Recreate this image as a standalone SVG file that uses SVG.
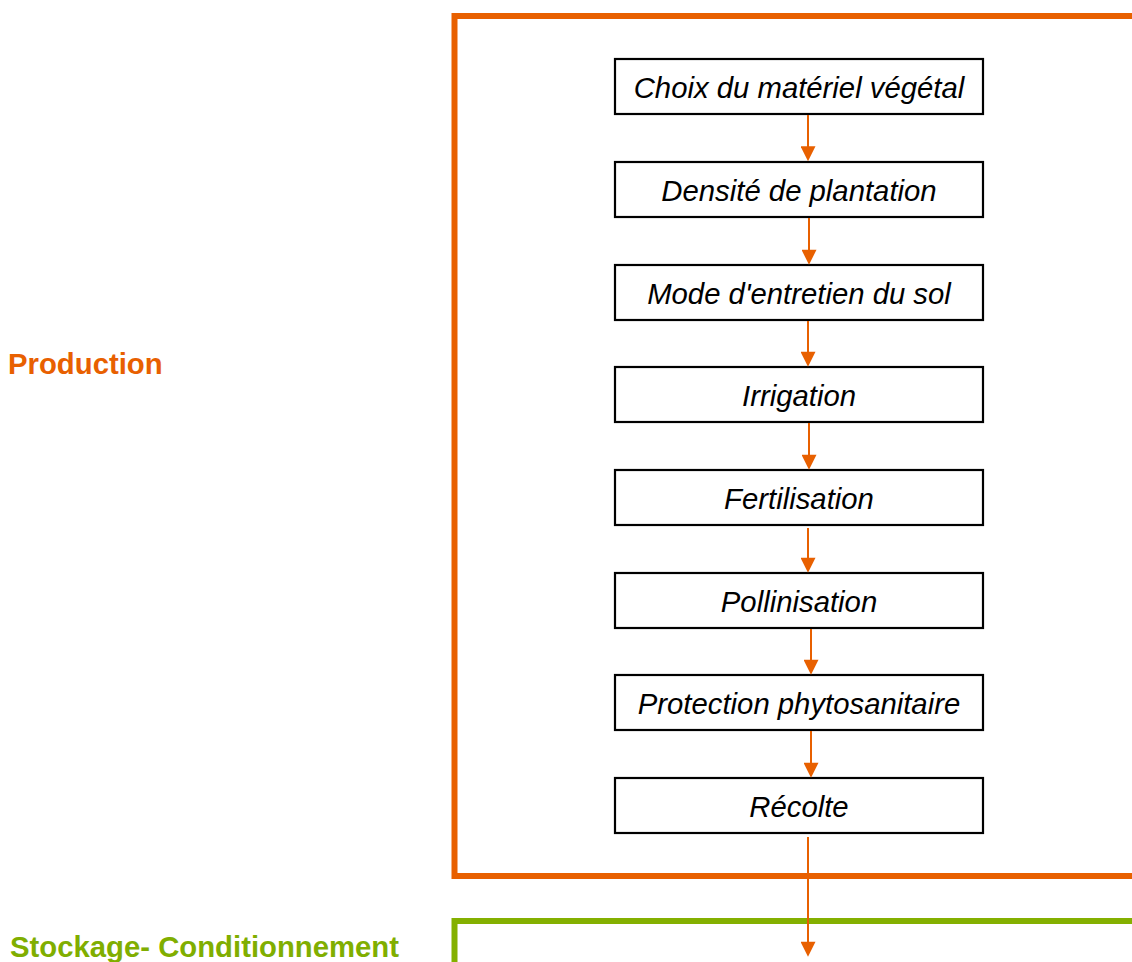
<svg xmlns="http://www.w3.org/2000/svg" width="1132" height="962" viewBox="0 0 1132 962">
<style>
.box rect{fill:#fff;stroke:#000;stroke-width:2.2}
.box text{font-family:"Liberation Sans",Arial,sans-serif;font-style:italic;font-size:29.3px;fill:#000;text-anchor:middle}
.lbl{font-family:"Liberation Sans",Arial,sans-serif;font-weight:bold;font-size:29.3px}
.frame{fill:none;stroke-width:6;stroke-linejoin:miter}
.conn line{stroke:#E86000;stroke-width:2}
</style>
<defs>
<marker id="ah" viewBox="0 0 16 16" refX="12" refY="8" markerWidth="16" markerHeight="15" orient="auto" markerUnits="userSpaceOnUse">
<path d="M0,0 L16,8 L0,16 z" fill="#E86000"/>
</marker>
</defs>
<rect width="1132" height="962" fill="#fff"/>
<g id="frame-production">
<path class="frame" stroke="#E86000" d="M1132,16 H454.5 V876 H1132"/>
<text class="lbl" x="8" y="374" fill="#E86000">Production</text>
</g>
<g id="frame-stockage">
<path class="frame" stroke="#84B000" d="M1132,921 H454.5 V962"/>
<text class="lbl" x="10" y="957" fill="#80AE00">Stockage- Conditionnement</text>
</g>
<g id="n1" class="box"><rect x="615" y="59" width="368" height="55"/><text x="799" y="97.5">Choix du matériel végétal</text></g>
<g id="n2" class="box"><rect x="615" y="162" width="368" height="55"/><text x="799" y="200.5">Densité de plantation</text></g>
<g id="n3" class="box"><rect x="615" y="265" width="368" height="55"/><text x="799" y="303.5">Mode d'entretien du sol</text></g>
<g id="n4" class="box"><rect x="615" y="367" width="368" height="55"/><text x="799" y="405.5">Irrigation</text></g>
<g id="n5" class="box"><rect x="615" y="470" width="368" height="55"/><text x="799" y="508.5">Fertilisation</text></g>
<g id="n6" class="box"><rect x="615" y="573" width="368" height="55"/><text x="799" y="611.5">Pollinisation</text></g>
<g id="n7" class="box"><rect x="615" y="675" width="368" height="55"/><text x="799" y="713.5">Protection phytosanitaire</text></g>
<g id="n8" class="box"><rect x="615" y="778" width="368" height="55"/><text x="799" y="816.5">Récolte</text></g>
<g id="connectors" class="conn">
<line x1="808" y1="115" x2="808" y2="157.5" marker-end="url(#ah)"/>
<line x1="809" y1="218" x2="809" y2="261" marker-end="url(#ah)"/>
<line x1="808" y1="321" x2="808" y2="363" marker-end="url(#ah)"/>
<line x1="809" y1="423" x2="809" y2="466" marker-end="url(#ah)"/>
<line x1="808" y1="528" x2="808" y2="569" marker-end="url(#ah)"/>
<line x1="811" y1="629" x2="811" y2="671" marker-end="url(#ah)"/>
<line x1="811" y1="731" x2="811" y2="774" marker-end="url(#ah)"/>
<line x1="808" y1="837" x2="808" y2="953" marker-end="url(#ah)"/>
</g>
</svg>
